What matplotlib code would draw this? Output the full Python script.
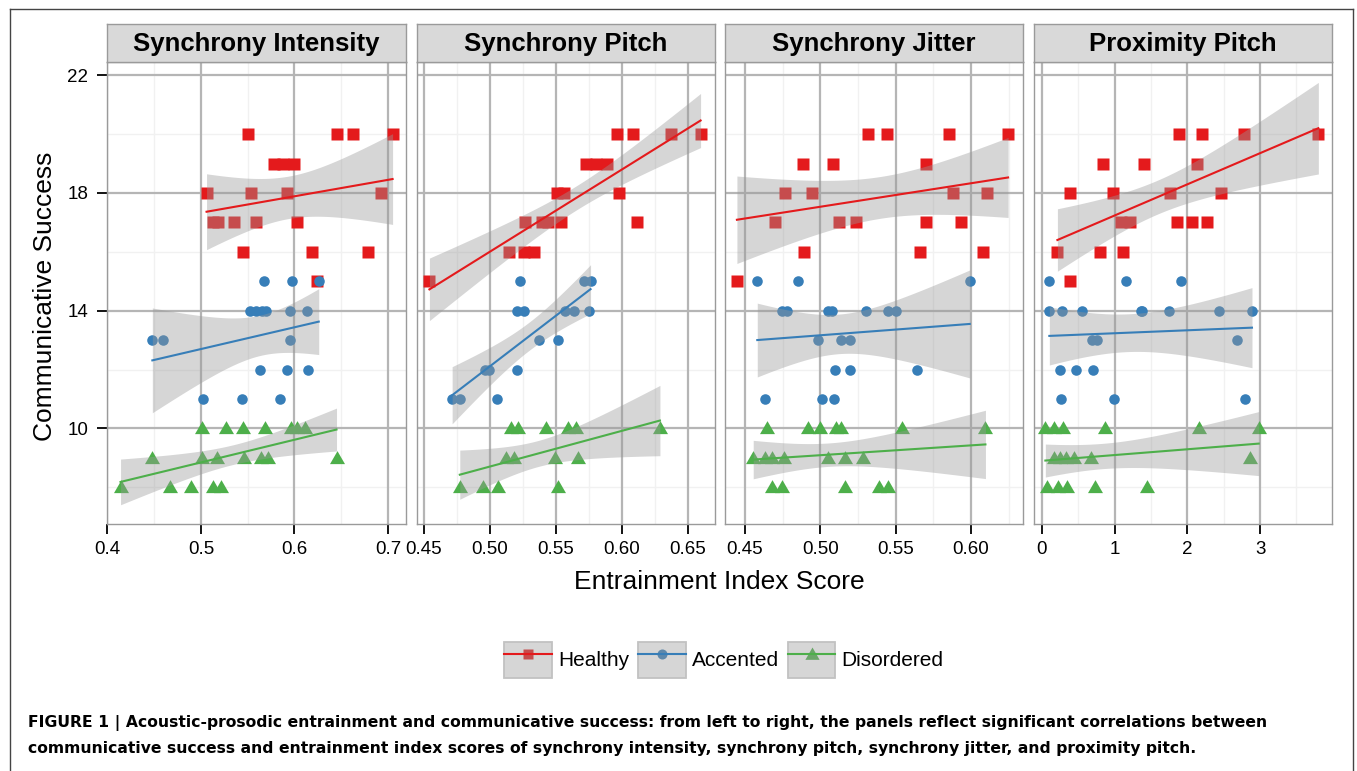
"""Four-panel facet: communicative success vs entrainment index score, by group."""

import matplotlib

matplotlib.use("Agg")
import matplotlib.pyplot as plt
import numpy as np
from matplotlib.legend_handler import HandlerTuple
from matplotlib.lines import Line2D
from matplotlib.patches import Patch

# --- Data -------------------------------------------------------------------------

PANELS = ["Synchrony Intensity", "Synchrony Pitch", "Synchrony Jitter", "Proximity Pitch"]
GROUPS = ["Healthy", "Accented", "Disordered"]

# Synchrony Intensity
si_healthy_x = [0.550, 0.646, 0.663, 0.705, 0.578, 0.588, 0.600, 0.506, 0.553, 0.592,
                0.693, 0.513, 0.518, 0.535, 0.559, 0.603, 0.545, 0.619, 0.679, 0.624]
si_healthy_y = [20, 20, 20, 20, 19, 19, 19, 18, 18, 18, 18, 17, 17, 17, 17, 17, 16, 16, 16, 15]
si_accented_x = [0.567, 0.597, 0.626, 0.552, 0.559, 0.565, 0.570, 0.595, 0.613, 0.448,
                 0.459, 0.595, 0.563, 0.592, 0.615, 0.502, 0.544, 0.585]
si_accented_y = [15, 15, 15, 14, 14, 14, 14, 14, 14, 13, 13, 13, 12, 12, 12, 11, 11, 11]
si_disordered_x = [0.501, 0.527, 0.545, 0.568, 0.596, 0.603, 0.611, 0.4475, 0.501, 0.517,
                   0.546, 0.564, 0.572, 0.645, 0.414, 0.467, 0.489, 0.513, 0.521]
si_disordered_y = [10, 10, 10, 10, 10, 10, 10, 9, 9, 9, 9, 9, 9, 9, 8, 8, 8, 8, 8]

# Synchrony Pitch
sp_healthy_x = [0.5965, 0.6083, 0.637, 0.6596, 0.573, 0.5806, 0.5884, 0.551, 0.556,
                0.5975, 0.5265, 0.5396, 0.5439, 0.554, 0.6116, 0.5146, 0.5258, 0.5333,
                0.4543]
sp_healthy_y = [20, 20, 20, 20, 19, 19, 19, 18, 18, 18, 17, 17, 17, 17, 17, 16, 16, 16, 15]
sp_accented_x = [0.5225, 0.5712, 0.5763, 0.5207, 0.5258, 0.5573, 0.5641, 0.575, 0.5376,
                 0.5518, 0.4967, 0.4997, 0.5207, 0.4715, 0.4773, 0.5056]
sp_accented_y = [15, 15, 15, 14, 14, 14, 14, 14, 13, 13, 12, 12, 12, 11, 11, 11]
sp_disordered_x = [0.5157, 0.5212, 0.5429, 0.5593, 0.5649, 0.6288, 0.5119, 0.5182,
                   0.5497, 0.5667, 0.4773, 0.4949, 0.5061, 0.5515]
sp_disordered_y = [10, 10, 10, 10, 10, 10, 9, 9, 9, 9, 8, 8, 8, 8]

# Synchrony Jitter
sj_healthy_x = [0.5318, 0.5441, 0.5852, 0.6245, 0.4887, 0.5081, 0.5702, 0.4767, 0.4946,
                0.5877, 0.6102, 0.4699, 0.5127, 0.5238, 0.5698, 0.5932, 0.4893, 0.5658,
                0.6078, 0.4447]
sj_healthy_y = [20, 20, 20, 20, 19, 19, 19, 18, 18, 18, 18, 17, 17, 17, 17, 17, 16, 16, 16, 15]
sj_accented_x = [0.4582, 0.4849, 0.5991, 0.4743, 0.4776, 0.5052, 0.5079, 0.5302, 0.545,
                 0.550, 0.4986, 0.5136, 0.5196, 0.5097, 0.5194, 0.5642, 0.4633, 0.5008,
                 0.509]
sj_accented_y = [15, 15, 15, 14, 14, 14, 14, 14, 14, 14, 13, 13, 13, 12, 12, 12, 11, 11, 11]
sj_disordered_x = [0.4648, 0.492, 0.4999, 0.5101, 0.5134, 0.5543, 0.6095, 0.4555, 0.4633,
                   0.4681, 0.4759, 0.5052, 0.5167, 0.528, 0.4677, 0.4743, 0.5163, 0.5388,
                   0.5446]
sj_disordered_y = [10, 10, 10, 10, 10, 10, 10, 9, 9, 9, 9, 9, 9, 9, 8, 8, 8, 8, 8]

# Proximity Pitch
pp_healthy_x = [1.880, 2.198, 2.774, 3.802, 0.843, 1.410, 2.138, 0.382, 0.977, 1.760,
                2.465, 1.083, 1.212, 1.853, 2.065, 2.276, 0.212, 0.793, 1.115, 0.387]
pp_healthy_y = [20, 20, 20, 20, 19, 19, 19, 18, 18, 18, 18, 17, 17, 17, 17, 17, 16, 16, 16, 15]
pp_accented_x = [0.101, 1.161, 1.912, 0.101, 0.276, 0.544, 1.359, 1.382, 1.742, 2.442,
                 2.889, 0.682, 0.760, 2.687, 0.253, 0.461, 0.705, 0.263, 0.991, 2.797]
pp_accented_y = [15, 15, 15, 14, 14, 14, 14, 14, 14, 14, 14, 13, 13, 13, 12, 12, 12, 11, 11, 11]
pp_disordered_x = [0.046, 0.161, 0.286, 0.866, 2.157, 2.982, 0.161, 0.253, 0.332, 0.438,
                   0.668, 2.857, 0.069, 0.221, 0.346, 0.724, 1.442]
pp_disordered_y = [10, 10, 10, 10, 10, 10, 9, 9, 9, 9, 9, 9, 8, 8, 8, 8, 8]

DATA = [
    [(si_healthy_x, si_healthy_y), (si_accented_x, si_accented_y), (si_disordered_x, si_disordered_y)],
    [(sp_healthy_x, sp_healthy_y), (sp_accented_x, sp_accented_y), (sp_disordered_x, sp_disordered_y)],
    [(sj_healthy_x, sj_healthy_y), (sj_accented_x, sj_accented_y), (sj_disordered_x, sj_disordered_y)],
    [(pp_healthy_x, pp_healthy_y), (pp_accented_x, pp_accented_y), (pp_disordered_x, pp_disordered_y)],
]

X_LIMITS = [(0.3995, 0.7188), (0.4449, 0.6705), (0.4368, 0.6344), (-0.11, 3.99)]
X_MAJOR = [[0.4, 0.5, 0.6, 0.7], [0.45, 0.50, 0.55, 0.60, 0.65],
           [0.45, 0.50, 0.55, 0.60], [0, 1, 2, 3]]
X_MINOR = [[0.45, 0.55, 0.65], [0.475, 0.525, 0.575, 0.625],
           [0.475, 0.525, 0.575, 0.625], [0.5, 1.5, 2.5, 3.5]]
X_LABELS = [["0.4", "0.5", "0.6", "0.7"], ["0.45", "0.50", "0.55", "0.60", "0.65"],
            ["0.45", "0.50", "0.55", "0.60"], ["0", "1", "2", "3"]]
Y_MAJOR = [10, 14, 18, 22]
Y_MINOR = [8, 12, 16, 20]

CAPTION_1 = ("FIGURE 1 | Acoustic-prosodic entrainment and communicative success: from left "
             "to right, the panels reflect significant correlations between")
CAPTION_2 = ("communicative success and entrainment index scores of synchrony intensity, "
             "synchrony pitch, synchrony jitter, and proximity pitch.")

# ggplot-ish styling
COLORS = ["#E41A1C", "#377EB8", "#4DAF4A"]
TRI = [(-1.0, -0.75), (1.0, -0.75), (0.0, 0.98)]
MARKERS = ["s", "o", TRI]
MSIZE = [8.0, 7.6, 10.8]
BAND = "#999999"
GRID_MAJOR = "#b5b5b5"
GRID_MINOR = "#f1f1f1"
BORDER = "#9a9a9a"
FONT = "Liberation Sans"


def t975(df: int) -> float:
    """Cornish-Fisher expansion for the 0.975 Student-t quantile."""
    z = 1.959964
    return z + (z**3 + z) / (4 * df) + (5 * z**5 + 16 * z**3 + 3 * z) / (96 * df**2)


def lm_band(x, y, n_grid=80):
    """Straight-line fit with a 95% confidence band, like geom_smooth(method='lm')."""
    x = np.asarray(x, float)
    y = np.asarray(y, float)
    n = len(x)
    slope, icpt = np.polyfit(x, y, 1)
    resid = y - (slope * x + icpt)
    s = np.sqrt(np.sum(resid**2) / (n - 2))
    sxx = np.sum((x - x.mean()) ** 2)
    gx = np.linspace(x.min(), x.max(), n_grid)
    fit = slope * gx + icpt
    half = t975(n - 2) * s * np.sqrt(1 / n + (gx - x.mean()) ** 2 / sxx)
    return gx, fit, fit - half, fit + half


plt.rcParams["font.family"] = [FONT, "DejaVu Sans"]
fig = plt.figure(figsize=(13.57, 7.71), dpi=100)
W, H = 1357, 771

lefts = [107, 417, 725, 1034]
rights = [405.5, 715, 1023, 1332]
p_bottom, p_top, s_top = 524, 62, 24

for i, name in enumerate(PANELS):
    l, r = lefts[i] / W, rights[i] / W
    ax = fig.add_axes([l, 1 - p_bottom / H, r - l, (p_bottom - p_top) / H])
    sax = fig.add_axes([l, 1 - p_top / H, r - l, (p_top - s_top) / H])

    # strip
    sax.set_facecolor("#d9d9d9")
    sax.set_xticks([])
    sax.set_yticks([])
    for sp in sax.spines.values():
        sp.set_color(BORDER)
        sp.set_linewidth(1.0)
    sax.text(0.5, 0.47, name, transform=sax.transAxes, ha="center", va="center",
             fontsize=18.5, fontweight="bold")

    # panel
    ax.set_xlim(*X_LIMITS[i])
    ax.set_ylim(6.75, 22.45)
    for v in X_MINOR[i]:
        ax.axvline(v, color=GRID_MINOR, lw=1.0, zorder=0)
    for v in Y_MINOR:
        ax.axhline(v, color=GRID_MINOR, lw=1.0, zorder=0)
    for v in X_MAJOR[i]:
        ax.axvline(v, color=GRID_MAJOR, lw=1.6, zorder=0.5)
    for v in Y_MAJOR:
        ax.axhline(v, color=GRID_MAJOR, lw=1.6, zorder=0.5)

    for g, (gx, gy) in enumerate(DATA[i]):
        ax.plot(gx, gy, ls="none", marker=MARKERS[g], ms=MSIZE[g], color=COLORS[g],
                mec="none", zorder=2)
    for g, (gx, gy) in enumerate(DATA[i]):
        sx, fit, lo, hi = lm_band(gx, gy)
        ax.fill_between(sx, lo, hi, color=BAND, alpha=0.4, lw=0, zorder=3)
        ax.plot(sx, fit, color=COLORS[g], lw=1.5, zorder=4)

    ax.set_xticks(X_MAJOR[i])
    ax.set_xticklabels(X_LABELS[i])
    ax.tick_params(axis="x", length=7.5, width=1.3, color="black", pad=5,
                   labelsize=13.5, labelcolor="black")
    ax.set_yticks(Y_MAJOR)
    if i == 0:
        ax.tick_params(axis="y", length=7.5, width=1.3, color="black", pad=6,
                       labelsize=13.5, labelcolor="black")
    else:
        ax.tick_params(axis="y", length=0, labelleft=False)
    for sp in ax.spines.values():
        sp.set_color(BORDER)
        sp.set_linewidth(1.0)

fig.text(719 / W, 1 - 582 / H, "Entrainment Index Score", ha="center", va="center",
         fontsize=19)
fig.text(45 / W, 1 - 296 / H, "Communicative Success", ha="center", va="center",
         rotation=90, fontsize=19)

# legend key: point under a translucent grey box, with the fit line on top
handles = []
for g in range(3):
    pt = Line2D([], [], ls="none", marker=MARKERS[g], ms=MSIZE[g] * 0.95, color=COLORS[g],
                mec="none")
    box = Patch(facecolor=(0.6, 0.6, 0.6, 0.4), edgecolor="#c2c2c2", lw=1.3)
    ln = Line2D([], [], color=COLORS[g], lw=1.5)
    handles.append((pt, box, ln))

fig.legend(handles, GROUPS, loc="center", bbox_to_anchor=(724 / W, 1 - 660 / H),
           ncol=3, frameon=False, fontsize=15, handlelength=2.3, handleheight=2.3,
           handletextpad=0.3, columnspacing=0.4,
           handler_map={tuple: HandlerTuple(ndivide=1, pad=0)})

cap_font = dict(ha="left", va="baseline", fontsize=11.25, fontweight="bold",
                family="DejaVu Sans")
fig.text(28 / W, 1 - 727 / H, CAPTION_1, **cap_font)
fig.text(28 / W, 1 - 753 / H, CAPTION_2, **cap_font)

# outer frame (left, top, right edges)
for xs, ys in [([9.5, 9.5], [771, 9]), ([9.5, 1353], [9, 9]), ([1353, 1353], [9, 771])]:
    fig.add_artist(Line2D([x / W for x in xs], [1 - y / H for y in ys], color="#444444",
                          lw=1.0, transform=fig.transFigure))

fig.savefig("out.png", dpi=100)
